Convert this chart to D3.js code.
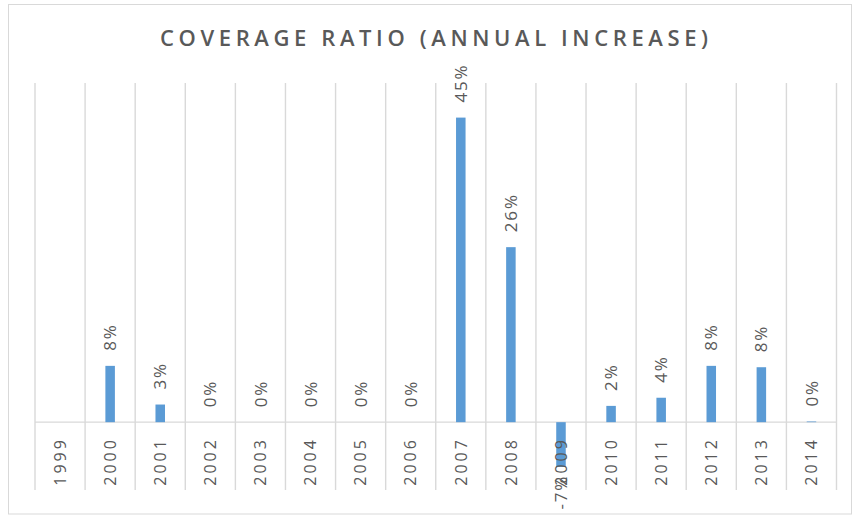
<!DOCTYPE html>
<html>
<head>
<meta charset="utf-8">
<script src="https://cdn.jsdelivr.net/npm/d3@7"></script>
<style>
  html, body { margin: 0; padding: 0; background: #fff; }
  svg { display: block; }
  text { font-family: "Open Sans", "Liberation Sans", sans-serif; fill: #595959; }
</style>
</head>
<body>
<svg id="chart" width="859" height="516"></svg>
<script>
// Annual increase of the coverage ratio, one bar per year
const years = ["1999", "2000", "2001", "2002", "2003", "2004", "2005", "2006",
               "2007", "2008", "2009", "2010", "2011", "2012", "2013", "2014"];
const increase = [null, 0.083, 0.026, 0, 0, 0, 0, 0,
                  0.449, 0.258, -0.066, 0.024, 0.036, 0.083, 0.081, 0.001];
const yDomain = [-0.10, 0.50];
const chartTitle = "COVERAGE RATIO (ANNUAL INCREASE)";

const data = years.map((y, i) => ({ year: y, value: increase[i] }));

const W = 859, H = 516;
const plot = { left: 35, right: 836.5, top: 83, bottom: 490 };

const svg = d3.select("#chart");

// outer chart frame
svg.append("rect")
  .attr("x", 8.5).attr("y", 4.5)
  .attr("width", 843).attr("height", 509.5)
  .attr("fill", "#fff").attr("stroke", "#d9d9d9").attr("stroke-width", 1);

const x = d3.scaleBand().domain(years).range([plot.left, plot.right]).padding(0);
const y = d3.scaleLinear().domain(yDomain).range([plot.bottom, plot.top]);

// percent format with a plain hyphen for negatives
const locale = d3.formatLocale({ decimal: ".", thousands: ",", grouping: [3], currency: ["$", ""], minus: "-" });
const fmt = locale.format(".0%");
const barW = x.bandwidth() * 0.19;

// category gridlines at band boundaries
const bounds = years.map(d => x(d)).concat([plot.right]);
svg.append("g").selectAll("line").data(bounds).join("line")
  .attr("x1", d => d).attr("x2", d => d)
  .attr("y1", plot.top).attr("y2", plot.bottom)
  .attr("stroke", "#d9d9d9").attr("stroke-width", 1.4);

// horizontal axis line at zero
svg.append("line")
  .attr("x1", plot.left).attr("x2", plot.right)
  .attr("y1", y(0)).attr("y2", y(0))
  .attr("stroke", "#d9d9d9").attr("stroke-width", 1.4);

// bars
svg.append("g").selectAll("rect").data(data.filter(d => d.value !== null)).join("rect")
  .attr("x", d => x(d.year) + x.bandwidth() / 2 - barW / 2)
  .attr("width", barW)
  .attr("y", d => y(Math.max(0, d.value)))
  .attr("height", d => Math.abs(y(d.value) - y(0)))
  .attr("fill", "#5b9bd5");

// category labels, rotated and clipped at the plot bottom
svg.append("clipPath").attr("id", "axisClip")
  .append("rect").attr("x", 0).attr("y", 0).attr("width", W).attr("height", plot.bottom);

const xAxis = d3.axisBottom(x).tickSize(0).tickPadding(0);
const axisG = svg.append("g")
  .attr("clip-path", "url(#axisClip)")
  .append("g")
  .attr("transform", `translate(0,${y(0)})`)
  .call(xAxis);
axisG.select(".domain").remove();
axisG.selectAll(".tick text")
  .attr("transform", "translate(0,15) rotate(-90)")
  .attr("x", 0).attr("y", 0).attr("dy", "0.36em")
  .attr("text-anchor", "end")
  .style("font-size", "16px")
  .style("letter-spacing", "3px")
  .style("font-family", "\"Open Sans\", sans-serif")
  .attr("fill", "#595959");

// value labels at the outside end of each bar
svg.append("g").selectAll("text").data(data.filter(d => d.value !== null)).join("text")
  .attr("transform", d => {
    const cx = x(d.year) + x.bandwidth() / 2;
    const cy = d.value >= 0 ? y(d.value) - 15 : y(d.value) + 8;
    return `translate(${cx},${cy}) rotate(-90)`;
  })
  .attr("dy", "0.36em")
  .attr("text-anchor", d => d.value >= 0 ? "start" : "end")
  .style("font-size", "17px")
  .style("letter-spacing", "1.8px")
  .text(d => fmt(d.value));

// title
svg.append("text")
  .attr("x", 160).attr("y", 46)
  .attr("textLength", 548).attr("lengthAdjust", "spacing")
  .style("font-size", "22px")
  .style("font-weight", 600)
  .text(chartTitle);
</script>
</body>
</html>
